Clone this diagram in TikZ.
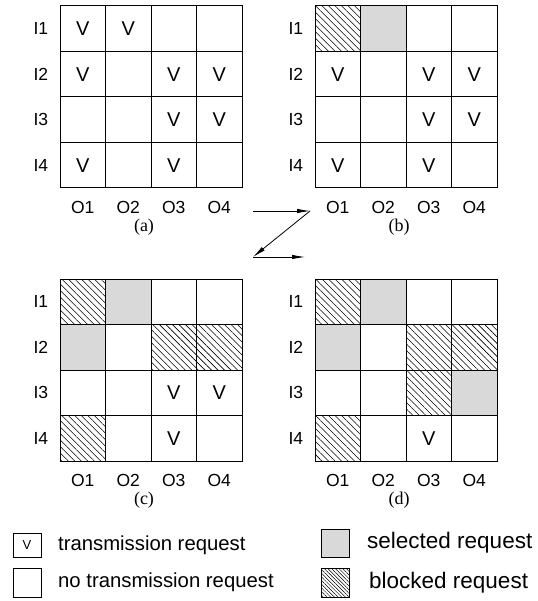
\documentclass[tikz,border=0pt]{standalone}
\usepackage{fontspec}
\setmainfont{Liberation Serif}
\setsansfont{Liberation Sans}
\usetikzlibrary{arrows.meta,patterns.meta}

\tikzset{
  cell/.style={draw, line width=1pt, minimum width=45.5pt, minimum height=45.5pt, inner sep=0pt},
  vmark/.style={font=\sffamily\fontsize{20}{20}\selectfont, inner sep=0pt},
  req/.style={label={[vmark]center:V}},
  none/.style={},
  sel/.style={fill=black!15},
  blk/.style={pattern={Lines[angle=-45,distance=4.6pt,line width=0.55pt]}},
  axislbl/.style={font=\sffamily\fontsize{17.5}{17.5}\selectfont, inner sep=0pt},
  caption/.style={font=\rmfamily\fontsize{18}{18}\selectfont, inner sep=0pt},
  legbox/.style={draw, line width=0.8pt, inner sep=0pt, minimum width=28pt},
  legtext/.style={font=\sffamily\fontsize{20.3}{20.3}\selectfont, inner sep=0pt, anchor=west},
  legtextr/.style={font=\sffamily\fontsize{22.5}{22.5}\selectfont, inner sep=0pt, anchor=west},
  flow/.style={line width=0.8pt, -{Latex[length=13pt,width=4.5pt]}}
}

% #1 name, #2/#3 top-left corner, #4 caption, #5 list row/col/kind
\newcommand\requestmatrix[5]{%
  \foreach \r/\c/\k in {#5} {
    \node[cell,\k] (#1-\r-\c) at ({#2+\c*45.5-22.75},{#3+\r*45.5-22.75}) {};
  }
  \foreach \r in {1,...,4} {
    \node[axislbl, anchor=east] (#1-in\r) at ({#2-11.7},{#3+\r*45.5-22.75}) {I\r};
    \node[axislbl] (#1-out\r) at ({#2+\r*45.5-22.75},{#3+182+19}) {O\r};
  }
  \node[caption] (#1-cap) at ({#2+84},{#3+182+39}) {#4};
}

\begin{document}
\begin{tikzpicture}[x=1pt,y=-1pt]
\useasboundingbox (0,0) rectangle (537,601);

\requestmatrix{a}{60}{6}{(a)}{
  1/1/req,1/2/req,1/3/none,1/4/none,
  2/1/req,2/2/none,2/3/req,2/4/req,
  3/1/none,3/2/none,3/3/req,3/4/req,
  4/1/req,4/2/none,4/3/req,4/4/none}

\requestmatrix{b}{315}{6}{(b)}{
  1/1/blk,1/2/sel,1/3/none,1/4/none,
  2/1/req,2/2/none,2/3/req,2/4/req,
  3/1/none,3/2/none,3/3/req,3/4/req,
  4/1/req,4/2/none,4/3/req,4/4/none}

\requestmatrix{c}{60}{279}{(c)}{
  1/1/blk,1/2/sel,1/3/none,1/4/none,
  2/1/sel,2/2/none,2/3/blk,2/4/blk,
  3/1/none,3/2/none,3/3/req,3/4/req,
  4/1/blk,4/2/none,4/3/req,4/4/none}

\requestmatrix{d}{315}{279}{(d)}{
  1/1/blk,1/2/sel,1/3/none,1/4/none,
  2/1/sel,2/2/none,2/3/blk,2/4/blk,
  3/1/none,3/2/none,3/3/blk,3/4/sel,
  4/1/blk,4/2/none,4/3/req,4/4/none}

% step arrows between the matrices
\coordinate (s1) at (253,211);
\coordinate (s2) at (310,211);
\coordinate (s3) at (253,257);
\coordinate (s4) at (305,257);
\draw[flow] (s1) -- (s2);
\draw[flow] (s2) -- (s3);
\draw[flow] (s3) -- (s4);

% legend
\node[legbox, minimum height=24pt, font=\sffamily\fontsize{13}{13}\selectfont] (l-req) at (27,545) {V};
\node[legtext] (t-req) at (58,545) {transmission request};
\node[legbox, minimum height=29pt] (l-none) at (27,582.5) {};
\node[legtext] (t-none) at (58,582.5) {no transmission request};
\node[legbox, minimum height=28pt, sel] (l-sel) at (335.5,543) {};
\node[legtextr] (t-sel) at (367,543) {selected request};
\node[legbox, minimum height=29pt, pattern={Lines[angle=-45,distance=2.6pt,line width=0.5pt]}] (l-blk) at (335.5,582.5) {};
\node[legtextr] (t-blk) at (369,582.5) {blocked request};
\end{tikzpicture}
\end{document}
